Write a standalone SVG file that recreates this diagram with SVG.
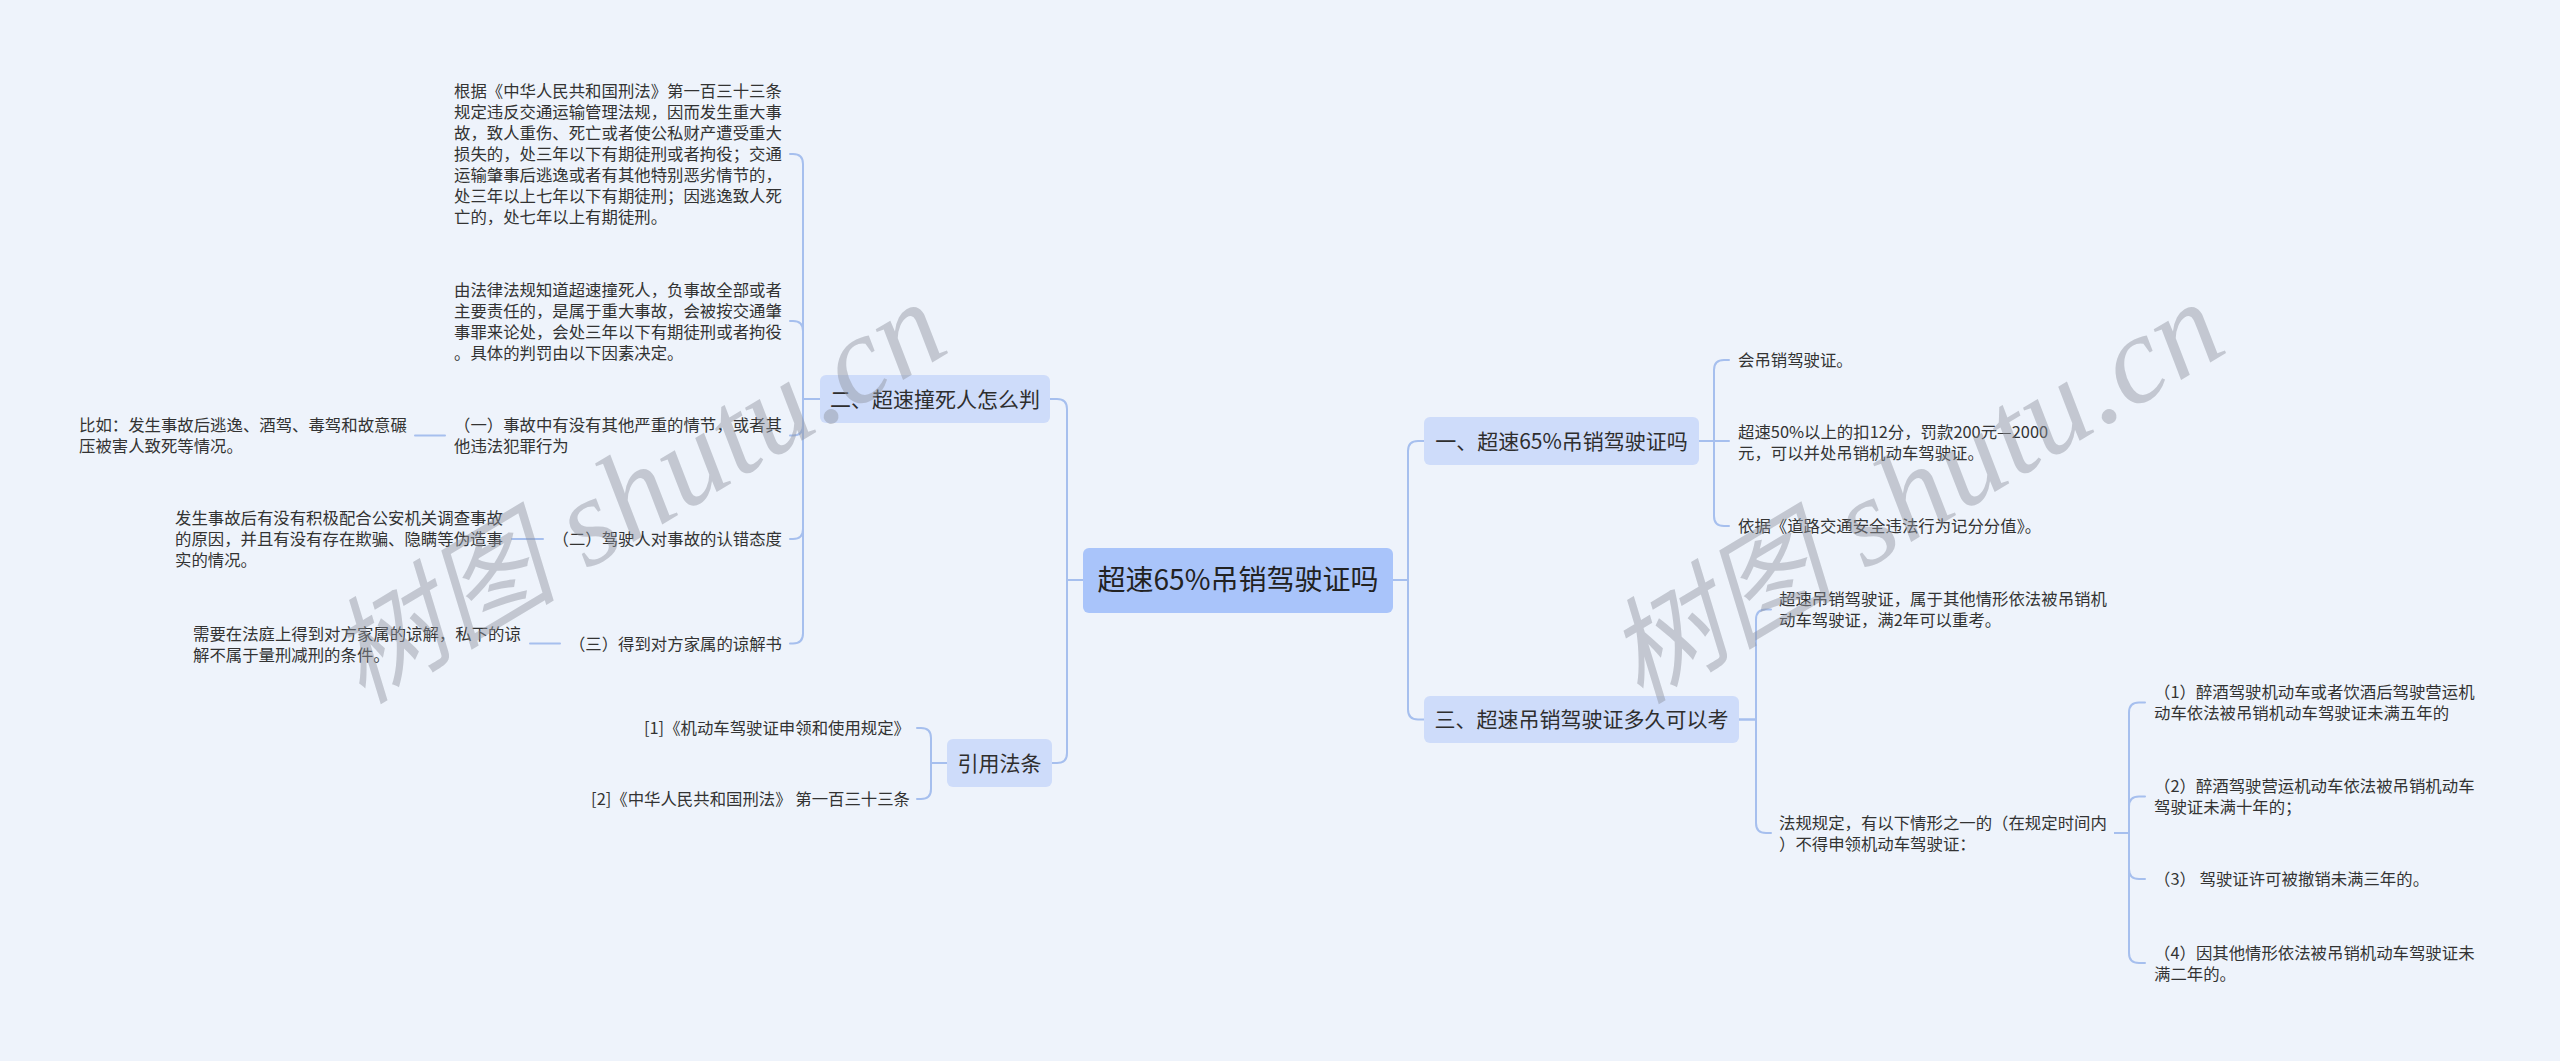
<svg xmlns="http://www.w3.org/2000/svg" width="2560" height="1061" viewBox="0 0 2560 1061">
<style>
.bg{fill:#eef3fb}
.conn path{fill:none;stroke:#a6bfee;stroke-width:2;stroke-linecap:round}
.root rect{fill:#a9c4fa}
.br rect{fill:#cedcfa}
text{font-family:"Noto Sans CJK SC","Noto Sans",sans-serif}
.root text{font-size:28px;fill:#222;text-anchor:middle}
.br text{font-size:21px;fill:#2e2e2e;text-anchor:middle}
.leaf text{font-size:16.4px;fill:#333}
.end{text-anchor:end}
.wm{fill:#8d939d;fill-opacity:0.45}
.wmc{font-family:"Noto Sans CJK SC",sans-serif;font-style:italic;font-size:115px}
.wml{font-family:"Liberation Serif",serif;font-style:italic;font-size:125px;letter-spacing:1px}
</style>
<rect class="bg" x="0" y="0" width="2560" height="1061"/>

<g class="conn" id="connectors">
  <path d="M1393,580 H1408 V451 Q1408,441 1418,441 H1424"/>
  <path d="M1393,580 H1408 V709.5 Q1408,719.5 1418,719.5 H1424"/>
  <path d="M1083,580 H1067 V409 Q1067,399 1057,399 H1050"/>
  <path d="M1083,580 H1067 V753 Q1067,763 1057,763 H1052"/>
  <path d="M1699,441 H1714 V370 Q1714,360 1724,360 H1729"/>
  <path d="M1699,441 H1729"/>
  <path d="M1699,441 H1714 V516 Q1714,526 1724,526 H1729"/>
  <path d="M1739,719.5 H1756 V619.5 Q1756,609.5 1766,609.5 H1771"/>
  <path d="M1739,719.5 H1756 V823 Q1756,833 1766,833 H1771"/>
  <path d="M2115,833 H2129 V712.5 Q2129,702.5 2139,702.5 H2145"/>
  <path d="M2115,833 H2129 V806.5 Q2129,796.5 2139,796.5 H2145"/>
  <path d="M2115,833 H2129 V869 Q2129,879 2139,879 H2145"/>
  <path d="M2115,833 H2129 V953 Q2129,963 2139,963 H2145"/>
  <path d="M820,399 H803 V164 Q803,154 793,154 H790"/>
  <path d="M820,399 H803 V331 Q803,321 793,321 H790"/>
  <path d="M820,399 H803 V425.5 Q803,435.5 793,435.5 H790"/>
  <path d="M820,399 H803 V529 Q803,539 793,539 H790"/>
  <path d="M820,399 H803 V633.5 Q803,643.5 793,643.5 H790"/>
  <path d="M415,435.5 H445"/>
  <path d="M512,539 H543"/>
  <path d="M530,643.5 H560"/>
  <path d="M947,763 H931 V738 Q931,728 921,728 H917"/>
  <path d="M947,763 H931 V789 Q931,799 921,799 H917"/>
</g>

<g id="root" class="root">
  <rect x="1083" y="548" width="310" height="65" rx="6"/>
  <text x="1238" y="590">超速65%吊销驾驶证吗</text>
</g>

<g id="branch1" class="br">
  <rect x="1424" y="417" width="275" height="48" rx="6"/>
  <text x="1561.5" y="448.5">一、超速65%吊销驾驶证吗</text>
</g>
<g id="branch2" class="br">
  <rect x="820" y="375" width="230" height="48" rx="6"/>
  <text x="935" y="406.5">二、超速撞死人怎么判</text>
</g>
<g id="branch3" class="br">
  <rect x="1424" y="696" width="315" height="47" rx="6"/>
  <text x="1581.5" y="727">三、超速吊销驾驶证多久可以考</text>
</g>
<g id="branch4" class="br">
  <rect x="947" y="739" width="105" height="48" rx="6"/>
  <text x="999.5" y="770.5">引用法条</text>
</g>

<g id="b1-c1" class="leaf"><text x="1738" y="366">会吊销驾驶证。</text></g>
<g id="b1-c2" class="leaf"><text><tspan x="1738" y="437.5">超速50%以上的扣12分，罚款200元—2000</tspan><tspan x="1738" y="458.5">元，可以并处吊销机动车驾驶证。</tspan></text></g>
<g id="b1-c3" class="leaf"><text x="1738" y="532">依据《道路交通安全违法行为记分分值》。</text></g>

<g id="b3-c1" class="leaf"><text><tspan x="1779" y="605">超速吊销驾驶证，属于其他情形依法被吊销机</tspan><tspan x="1779" y="626">动车驾驶证，满2年可以重考。</tspan></text></g>
<g id="b3-c2" class="leaf"><text><tspan x="1779" y="828.5">法规规定，有以下情形之一的（在规定时间内</tspan><tspan x="1779" y="849.5">）不得申领机动车驾驶证：</tspan></text></g>

<g id="b3-c2-1" class="leaf"><text><tspan x="2154" y="698">（1）醉酒驾驶机动车或者饮酒后驾驶营运机</tspan><tspan x="2154" y="719">动车依法被吊销机动车驾驶证未满五年的</tspan></text></g>
<g id="b3-c2-2" class="leaf"><text><tspan x="2154" y="792">（2）醉酒驾驶营运机动车依法被吊销机动车</tspan><tspan x="2154" y="813">驾驶证未满十年的；</tspan></text></g>
<g id="b3-c2-3" class="leaf"><text x="2154" y="885">（3） 驾驶证许可被撤销未满三年的。</text></g>
<g id="b3-c2-4" class="leaf"><text><tspan x="2154" y="958.5">（4）因其他情形依法被吊销机动车驾驶证未</tspan><tspan x="2154" y="979.5">满二年的。</tspan></text></g>

<g id="b2-c1" class="leaf"><text><tspan x="454" y="97">根据《中华人民共和国刑法》第一百三十三条</tspan><tspan x="454" y="118">规定违反交通运输管理法规，因而发生重大事</tspan><tspan x="454" y="139">故，致人重伤、死亡或者使公私财产遭受重大</tspan><tspan x="454" y="160">损失的，处三年以下有期徒刑或者拘役；交通</tspan><tspan x="454" y="181">运输肇事后逃逸或者有其他特别恶劣情节的，</tspan><tspan x="454" y="202">处三年以上七年以下有期徒刑；因逃逸致人死</tspan><tspan x="454" y="223">亡的，处七年以上有期徒刑。</tspan></text></g>
<g id="b2-c2" class="leaf"><text><tspan x="454" y="295.5">由法律法规知道超速撞死人，负事故全部或者</tspan><tspan x="454" y="316.5">主要责任的，是属于重大事故，会被按交通肇</tspan><tspan x="454" y="337.5">事罪来论处，会处三年以下有期徒刑或者拘役</tspan><tspan x="454" y="358.5">。具体的判罚由以下因素决定。</tspan></text></g>
<g id="b2-c3" class="leaf"><text><tspan x="454" y="431">（一）事故中有没有其他严重的情节，或者其</tspan><tspan x="454" y="452">他违法犯罪行为</tspan></text></g>
<g id="b2-c4" class="leaf"><text class="end" x="782" y="545">（二）驾驶人对事故的认错态度</text></g>
<g id="b2-c5" class="leaf"><text class="end" x="782" y="649.5">（三）得到对方家属的谅解书</text></g>

<g id="b2-c3-1" class="leaf"><text><tspan x="79" y="431">比如：发生事故后逃逸、酒驾、毒驾和故意碾</tspan><tspan x="79" y="452">压被害人致死等情况。</tspan></text></g>
<g id="b2-c4-1" class="leaf"><text><tspan x="175" y="524">发生事故后有没有积极配合公安机关调查事故</tspan><tspan x="175" y="545">的原因，并且有没有存在欺骗、隐瞒等伪造事</tspan><tspan x="175" y="566">实的情况。</tspan></text></g>
<g id="b2-c5-1" class="leaf"><text><tspan x="193" y="639.5">需要在法庭上得到对方家属的谅解，私下的谅</tspan><tspan x="193" y="660.5">解不属于量刑减刑的条件。</tspan></text></g>

<g id="b4-c1" class="leaf"><text class="end" x="910" y="734">[1]《机动车驾驶证申领和使用规定》</text></g>
<g id="b4-c2" class="leaf"><text class="end" x="910" y="805">[2]《中华人民共和国刑法》 第一百三十三条</text></g>

<g id="watermarks">
  <text class="wm" transform="translate(362,705) rotate(-31)"><tspan class="wmc">树图</tspan><tspan class="wml"> shutu.cn</tspan></text>
  <text class="wm" transform="translate(1640,705) rotate(-31)"><tspan class="wmc">树图</tspan><tspan class="wml"> shutu.cn</tspan></text>
</g>
</svg>
